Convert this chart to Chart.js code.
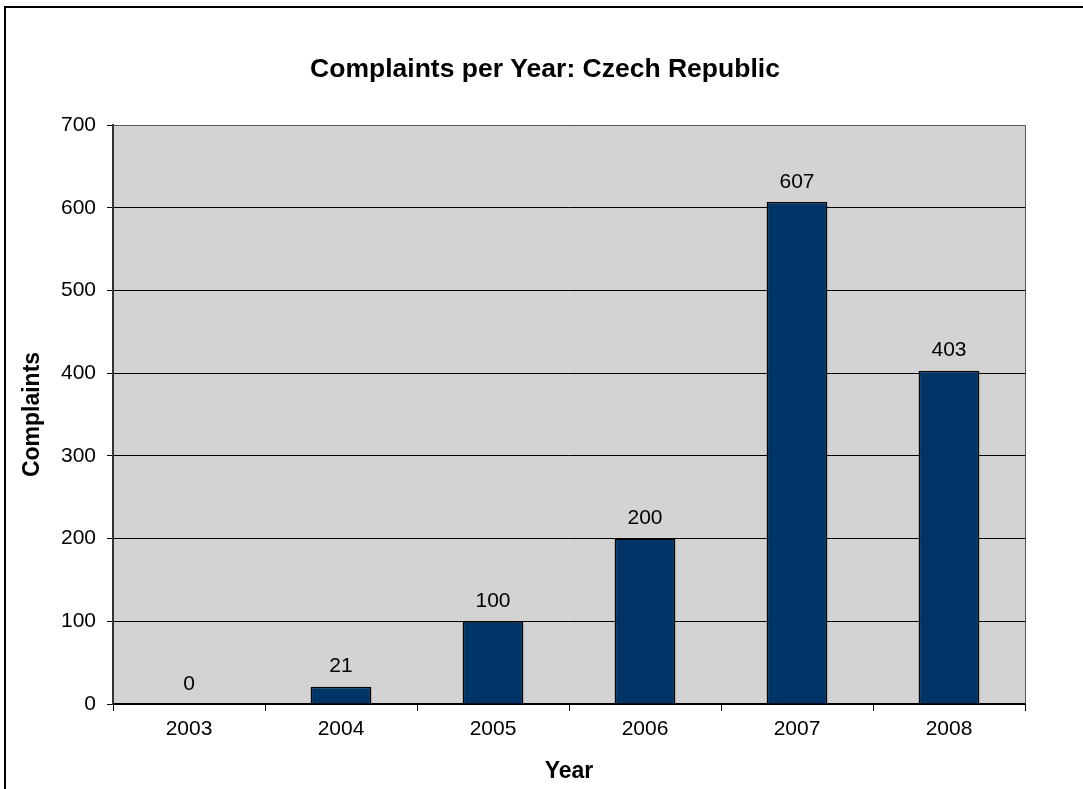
<!DOCTYPE html>
<html>
<head>
<meta charset="utf-8">
<title>Complaints per Year: Czech Republic</title>
<script src="https://cdn.jsdelivr.net/npm/chart.js@4/dist/chart.umd.min.js"></script>
<style>
  html, body { margin:0; padding:0; background:#fff; overflow:hidden; }
  canvas { display:block; }
</style>
</head>
<body>
<canvas id="chart" width="1083" height="789"></canvas>
<script>
const years = ['2003','2004','2005','2006','2007','2008'];
const complaints = [0, 21, 100, 200, 607, 403];
const yTicks = [0, 100, 200, 300, 400, 500, 600, 700];
const chartTitle = 'Complaints per Year: Czech Republic';

const FONT = "'Liberation Sans', Arial, sans-serif";

// grey plot area + frame, outer chart border, title
const plotBg = {
  id:'plotBg',
  beforeDraw(chart){
    const {ctx, chartArea:a} = chart;
    ctx.save();
    ctx.fillStyle = '#fff';
    ctx.fillRect(0,0,chart.width,chart.height);
    ctx.strokeStyle = '#000'; ctx.lineWidth = 2;
    ctx.strokeRect(5, 7, 3000, 3000);
    ctx.fillStyle = '#d3d3d3';
    ctx.fillRect(a.left, a.top, a.right-a.left, a.bottom-a.top);
    // the original chart frame is wider than the crop, so the title sits right of canvas centre
    ctx.fillStyle = '#000';
    ctx.font = 'bold 26.5px ' + FONT;
    ctx.textAlign = 'center'; ctx.textBaseline = 'middle';
    ctx.fillText(chartTitle, 545, 70);
    ctx.restore();
  },
  afterDatasetsDraw(chart){
    const {ctx, chartArea:a} = chart;
    ctx.save();
    ctx.strokeStyle = '#555'; ctx.lineWidth = 1;
    ctx.beginPath();
    ctx.moveTo(a.left, a.top+0.5); ctx.lineTo(a.right+0.5, a.top+0.5); ctx.lineTo(a.right+0.5, a.bottom);
    ctx.stroke();
    ctx.restore();
  }
};

// value labels over bars
const valueLabels = {
  id:'valueLabels',
  afterDatasetsDraw(chart){
    const {ctx} = chart;
    const meta = chart.getDatasetMeta(0);
    ctx.save();
    ctx.font = '21px ' + FONT;
    ctx.fillStyle = '#000';
    ctx.textAlign = 'center'; ctx.textBaseline = 'middle';
    meta.data.forEach((bar, i) => {
      ctx.fillText(String(complaints[i]), bar.x, bar.y - 20);
    });
    ctx.restore();
  }
};

new Chart(document.getElementById('chart'), {
  type:'bar',
  data:{
    labels: years,
    datasets:[{
      label:'Complaints',
      data: complaints,
      backgroundColor:'#003366',
      borderColor:'#000',
      borderWidth:1.5,
      categoryPercentage:1,
      barPercentage:0.4
    }]
  },
  options:{
    responsive:false,
    animation:false,
    layout:{ padding:{ top:125, right:58, bottom:0, left:0 } },
    plugins:{
      legend:{ display:false },
      tooltip:{ enabled:false },
      title:{ display:false }
    },
    scales:{
      x:{
        afterFit(s){ s.height = 85; },
        grid:{ offset:true, drawOnChartArea:false, drawTicks:true, tickLength:7, color:'#000', lineWidth:1 },
        border:{ display:true, color:'#000', width:2 },
        ticks:{ color:'#000', padding:6, font:{ family:FONT, size:21 } },
        title:{ display:true, text:'Year', color:'#000', font:{ family:FONT, size:23, weight:'bold' }, padding:{ top:0, bottom:4 } }
      },
      y:{
        min:0, max:700,
        afterFit(s){ s.width = 113; },
        afterBuildTicks(s){ s.ticks = yTicks.map(v => ({ value:v })); },
        grid:{
          drawTicks:true, tickLength:6,
          color: c => c.tick && c.tick.value === 700 ? '#555' : '#000',
          tickColor:'#000',
          lineWidth:1
        },
        border:{ display:true, color:'#333', width:2 },
        ticks:{ color:'#000', padding:11, font:{ family:FONT, size:21 } },
        title:{ display:true, text:'Complaints', color:'#000', font:{ family:FONT, size:23, weight:'bold' }, padding:{ top:19, bottom:0 } }
      }
    }
  },
  plugins:[plotBg, valueLabels]
});
</script>
</body>
</html>
